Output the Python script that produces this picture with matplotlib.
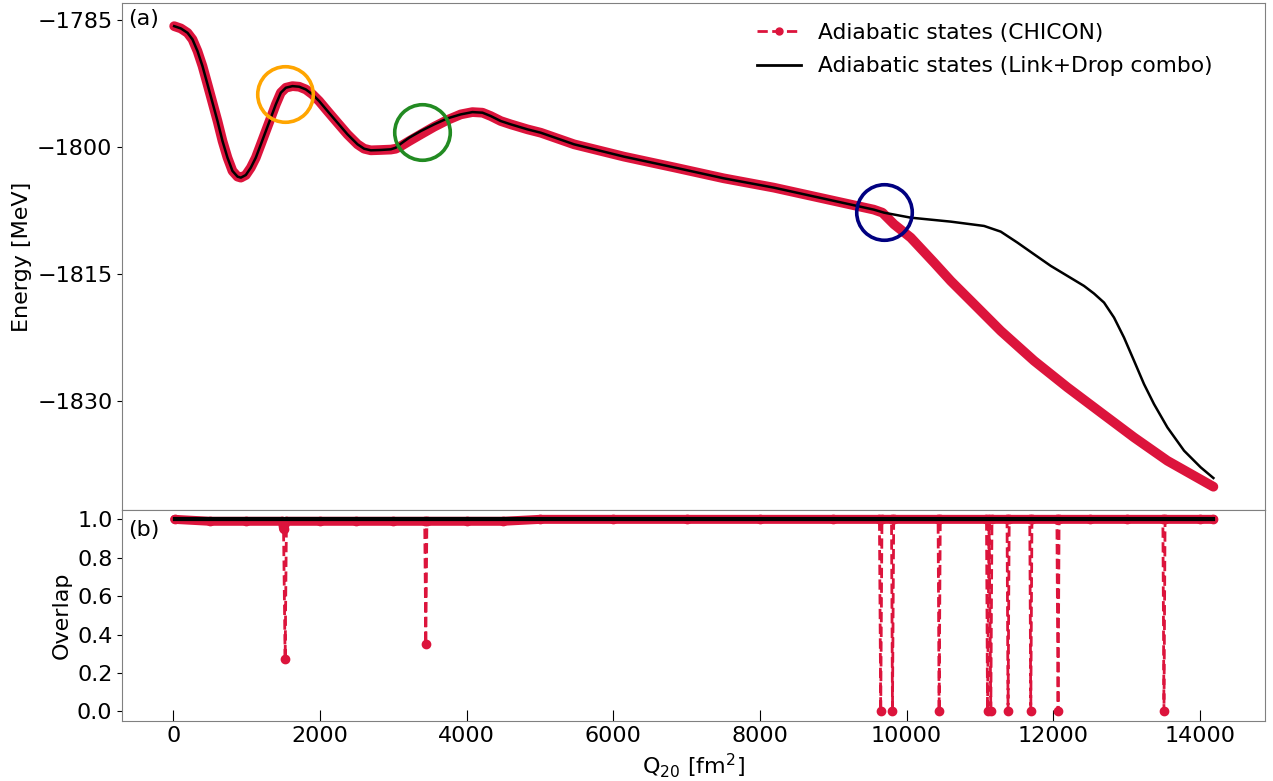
import matplotlib
matplotlib.use("Agg")
import matplotlib.pyplot as plt
from matplotlib.lines import Line2D

# Energy curves (Q20 in fm^2, energy in MeV)
q_chicon = [14, 105, 196, 264, 332, 400, 469, 537, 605, 673, 741, 809, 878, 923, 991,
            1059, 1127, 1196, 1264, 1332, 1400, 1468, 1537, 1627, 1718, 1809, 1900, 1991,
            2105, 2241, 2377, 2514, 2604, 2695, 2832, 2968, 3036, 3104, 3218, 3377, 3559,
            3741, 3922, 4081, 4218, 4331, 4468, 4604, 4831, 5013, 5467, 6149, 6826, 7508,
            8190, 8871, 9553, 9671,
            9830, 10057, 10375, 10603, 10921, 11284, 11739, 12194, 12648, 13102, 13557, 14184]
e_chicon = [-1785.71, -1785.98, -1786.50, -1787.28, -1788.66, -1790.43, -1792.60, -1794.76,
            -1796.93, -1799.29, -1801.26, -1802.83, -1803.50, -1803.62, -1803.31, -1802.44,
            -1801.26, -1799.68, -1798.11, -1796.54, -1794.96, -1793.58, -1792.99, -1792.80,
            -1792.87, -1793.19, -1793.78, -1794.57, -1795.75, -1797.13, -1798.50, -1799.68,
            -1800.20, -1800.39, -1800.35, -1800.30, -1800.20, -1799.90, -1799.30, -1798.50,
            -1797.60, -1796.80, -1796.14, -1795.87, -1795.94, -1796.34, -1796.93, -1797.32,
            -1797.91, -1798.31, -1799.68, -1801.14, -1802.40, -1803.70, -1804.80, -1806.10,
            -1807.40, -1807.76,
            -1809.14, -1810.71, -1813.66, -1815.83, -1818.58, -1821.73, -1825.27, -1828.42,
            -1831.38, -1834.33, -1837.09, -1840.16]

q_combo = [14, 105, 196, 264, 332, 400, 469, 537, 605, 673, 741, 809, 878, 923, 991,
           1059, 1127, 1196, 1264, 1332, 1400, 1468, 1537, 1627, 1718, 1809, 1900, 1991,
           2105, 2241, 2377, 2514, 2604, 2695, 2832, 2968, 3036, 3104, 3218, 3377, 3559,
           3741, 3922, 4081, 4218, 4331, 4468, 4604, 4831, 5013, 5467, 6149, 6826, 7508,
           8190, 8871, 9553, 9693,
           10057, 10603, 11057, 11284, 11512, 11739, 11966, 12194, 12420, 12556, 12693,
           12829, 12965, 13102, 13238, 13374, 13557, 13784, 14011, 14184]
e_combo = [-1785.71, -1785.98, -1786.50, -1787.28, -1788.66, -1790.43, -1792.60, -1794.76,
           -1796.93, -1799.29, -1801.26, -1802.83, -1803.50, -1803.62, -1803.31, -1802.44,
           -1801.26, -1799.68, -1798.11, -1796.54, -1794.96, -1793.58, -1792.99, -1792.80,
           -1792.87, -1793.19, -1793.78, -1794.57, -1795.75, -1797.13, -1798.50, -1799.68,
           -1800.20, -1800.39, -1800.35, -1800.27, -1800.08, -1799.61, -1798.90, -1798.11,
           -1797.32, -1796.61, -1796.14, -1795.87, -1795.94, -1796.34, -1796.93, -1797.32,
           -1797.91, -1798.31, -1799.68, -1801.14, -1802.40, -1803.70, -1804.80, -1806.10,
           -1807.40, -1807.76,
           -1808.35, -1808.82, -1809.33, -1810.00, -1811.30, -1812.68, -1814.05, -1815.24,
           -1816.42, -1817.32, -1818.39, -1820.16, -1822.52, -1825.27, -1828.03, -1830.39,
           -1833.15, -1835.90, -1837.87, -1839.13]

# Overlap between neighbouring states (CHICON)
q_overlap = [20, 500, 1000, 1490, 1505, 1527, 1545, 2000, 2500, 3000, 3430, 3445, 3460,
             4000, 4500, 5000, 6000, 7000, 8000, 9000, 9630, 9648, 9665, 9795, 9808, 9825,
             10430, 10444, 10460, 11090, 11104, 11125, 11149, 11165, 11370, 11384, 11400,
             11680, 11694, 11710, 12050, 12066, 12080, 12500, 13000, 13495, 13510, 13525,
             14000, 14184]
overlap = [1.0, 0.99, 0.99, 0.99, 0.95, 0.27, 0.99, 0.99, 0.99, 0.99, 0.99, 0.35, 0.99,
           0.99, 0.99, 1.0, 1.0, 1.0, 1.0, 1.0, 1.0, 0.0, 1.0, 1.0, 0.0, 1.0,
           1.0, 0.0, 1.0, 1.0, 0.0, 1.0, 0.0, 1.0, 1.0, 0.0, 1.0,
           1.0, 0.0, 1.0, 1.0, 0.0, 1.0, 1.0, 1.0, 1.0, 0.0, 1.0,
           1.0, 1.0]
q_overlap_combo = [20, 14184]
overlap_combo = [1.0, 1.0]

# Highlighted crossings
circle_q = [1527, 3394, 9689]
circle_e = [-1793.7, -1798.2, -1807.7]
circle_colors = ["orange", "forestgreen", "navy"]

RED = "crimson"
GREY = "#808080"

plt.rcParams["font.size"] = 16

fig, (ax1, ax2) = plt.subplots(2, 1, sharex=True, figsize=(12.73, 7.81), dpi=100,
                               gridspec_kw={"height_ratios": [2.4, 1]})
fig.subplots_adjust(left=0.096, right=0.994, top=0.996, bottom=0.077, hspace=0)

# (a) energies
ax1.plot(q_chicon, e_chicon, color=RED, lw=7, solid_capstyle="round", solid_joinstyle="round")
ax1.plot(q_combo, e_combo, color="black", lw=1.8)
for q, e, c in zip(circle_q, circle_e, circle_colors):
    ax1.plot(q, e, "o", ms=40, mfc="none", mec=c, mew=2.6)
ax1.set_yticks([-1785, -1800, -1815, -1830])
ax1.set_ylabel("Energy [MeV]")
ax1.tick_params(axis="x", bottom=False, labelbottom=False)
ax1.text(0.005, 0.968, "(a)", transform=ax1.transAxes, ha="left", va="center")

handles = [Line2D([], [], color=RED, ls="--", marker="o", ms=5, lw=2),
           Line2D([], [], color="black", lw=2)]
ax1.legend(handles, ["Adiabatic states (CHICON)", "Adiabatic states (Link+Drop combo)"],
           loc="upper right", bbox_to_anchor=(0.971, 1.0), frameon=False,
           fontsize=15.7, labelspacing=0.62)

# (b) overlaps
q_base = [q for q, v in zip(q_overlap, overlap) if v > 0.9]
v_base = [v for v in overlap if v > 0.9]
ax2.plot(q_base, v_base, color=RED, lw=6.5, solid_capstyle="round")
ax2.plot(q_overlap, overlap, color=RED, ls="--", lw=2, marker="o", ms=6)
ax2.plot(q_overlap_combo, overlap_combo, color="black", lw=3)
ax2.set_yticks([0.0, 0.2, 0.4, 0.6, 0.8, 1.0])
ax2.set_ylabel("Overlap")
ax2.set_xlabel("Q$_{20}$ [fm$^2$]")
ax2.set_xticks([0, 2000, 4000, 6000, 8000, 10000, 12000, 14000])
ax2.tick_params(axis="x", direction="in", length=8)
ax2.text(0.005, 0.905, "(b)", transform=ax2.transAxes, ha="left", va="center")

for ax in (ax1, ax2):
    for sp in ax.spines.values():
        sp.set_color(GREY)

fig.savefig("out.png", dpi=100)
